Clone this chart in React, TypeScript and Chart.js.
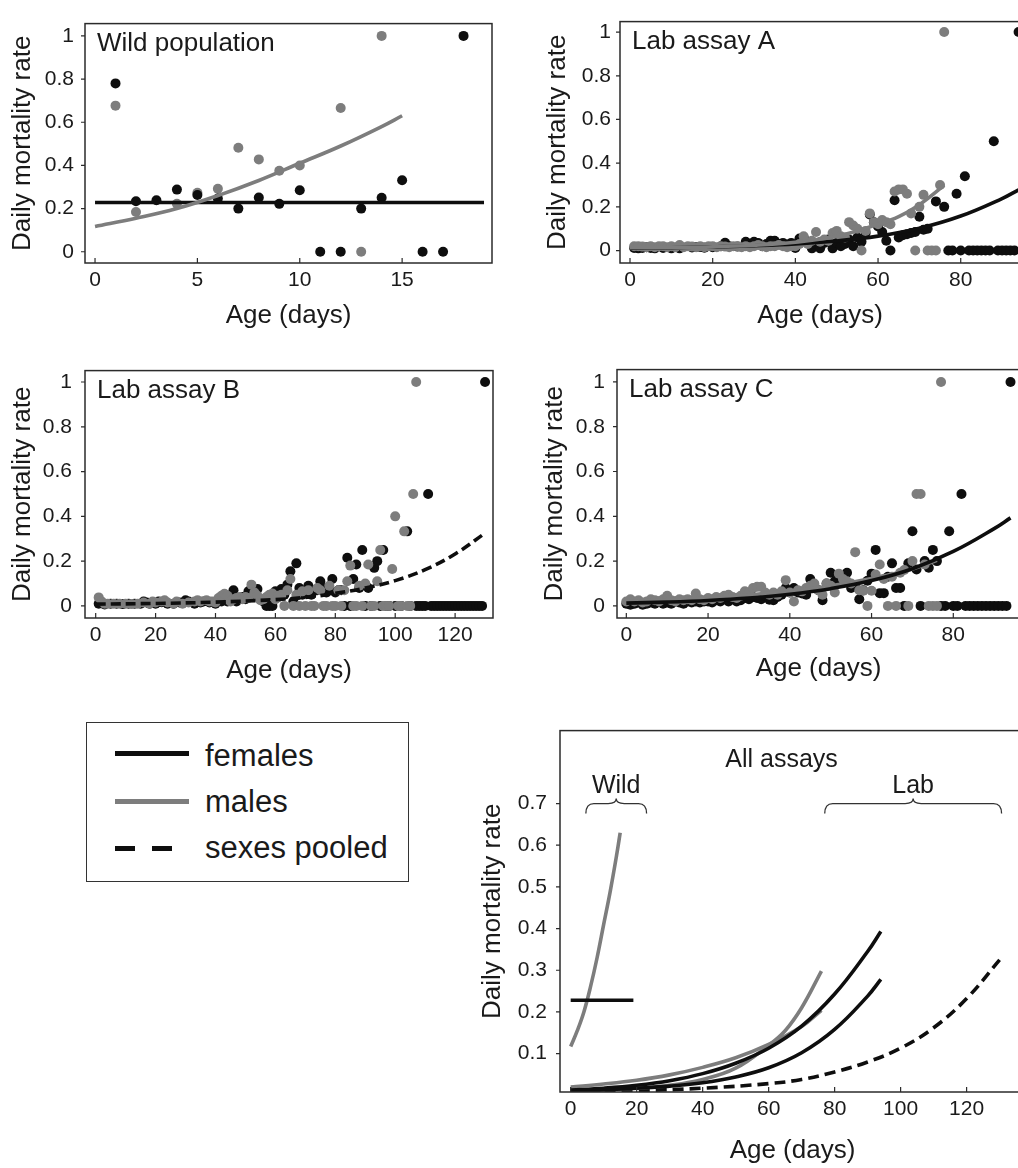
import React, { useEffect, useRef } from 'react';
import { Chart, registerables } from 'chart.js';
Chart.register(...registerables);

type Pair = [number, number];

// ---------------- data ----------------
const wildFemales: Pair[] = [[1,0.78],[2,0.234],[3,0.239],[4,0.288],[5,0.263],[6,0.247],[7,0.2],[8,0.251],[9,0.222],[10,0.285],[11,0],[12,0],[13,0.2],[14,0.25],[15,0.331],[16,0],[17,0],[18,1]];
const wildMales: Pair[] = [[1,0.677],[2,0.184],[4,0.222],[5,0.273],[6,0.292],[7,0.482],[8,0.428],[9,0.375],[10,0.4],[12,0.666],[13,0],[14,1]];

const labAFemales: Pair[] = [[1,0.012],[2,0.01],[3,0.012],[4,0.015],[5,0.012],[6,0.01],[8,0.012],[10,0.01],[12,0.01],[15,0.014],[16,0.016],[17,0.016],[18,0.013],[20,0.015],[22,0.02],[23,0.036],[24,0.02],[26,0.018],[28,0.04],[29,0.03],[30,0.04],[31,0.035],[32,0.02],[33,0.03],[34,0.045],[35,0.045],[36,0.03],[37,0.035],[38,0.02],[39,0.035],[40,0.012],[41,0.055],[42,0.06],[43,0.04],[44,0.01],[45,0.03],[46,0.01],[47,0.035],[48,0.05],[49,0.01],[50,0.035],[51,0.02],[52,0.03],[53,0.05],[54,0.02],[55,0.06],[56,0.04],[57,0.08],[58,0.165],[59,0.13],[60,0.11],[61,0.085],[62,0.045],[63,0],[64,0.23],[65,0.06],[66,0.07],[67,0.075],[68,0.08],[69,0.085],[70,0.155],[71,0.095],[72,0.1],[74,0.225],[76,0.2],[77,0],[78,0],[79,0.26],[80,0],[81,0.34],[82,0],[83,0],[84,0],[85,0],[86,0],[87,0],[88,0.5],[89,0],[90,0],[91,0],[92,0],[93,0],[94,1]];
const labAMales: Pair[] = [[1,0.02],[2,0.02],[3,0.018],[4,0.015],[5,0.02],[6,0.015],[7,0.02],[8,0.02],[9,0.015],[10,0.02],[11,0.015],[12,0.025],[13,0.015],[14,0.02],[15,0.018],[16,0.015],[17,0.02],[18,0.015],[19,0.02],[20,0.02],[21,0.015],[22,0.02],[23,0.018],[24,0.015],[25,0.02],[26,0.02],[27,0.015],[28,0.02],[29,0.015],[30,0.02],[31,0.025],[32,0.02],[33,0.015],[34,0.02],[35,0.02],[36,0.025],[37,0.02],[38,0.015],[39,0.02],[40,0.02],[41,0.03],[42,0.065],[43,0.03],[44,0.045],[45,0.085],[46,0.04],[47,0.05],[48,0.045],[49,0.08],[50,0.09],[51,0.065],[52,0.06],[53,0.13],[54,0.115],[55,0.1],[56,0],[57,0.09],[58,0.17],[59,0.13],[60,0.12],[61,0.14],[62,0.13],[63,0.12],[64,0.27],[65,0.28],[66,0.28],[67,0.26],[68,0.17],[69,0],[70,0.2],[71,0.255],[72,0],[73,0],[74,0],[75,0.3],[76,1]];

const labBFemales: Pair[] = [[1,0.01],[2,0.012],[3,0.006],[5,0.01],[7,0.01],[9,0.008],[11,0.01],[13,0.01],[15,0.01],[16,0.02],[17,0.015],[18,0.01],[20,0.01],[21,0.02],[22,0.016],[24,0.01],[26,0.01],[28,0.015],[30,0.025],[31,0.02],[33,0.01],[35,0.015],[36,0.02],[38,0.015],[40,0.01],[42,0.02],[43,0.03],[44,0.02],[45,0.035],[46,0.07],[47,0.02],[48,0.03],[49,0.04],[50,0.03],[51,0.065],[52,0.04],[53,0.05],[54,0.075],[55,0.03],[56,0.02],[57,0],[58,0],[59,0],[60,0.065],[61,0.04],[62,0.075],[63,0.05],[64,0.095],[65,0.155],[66,0.02],[67,0.19],[68,0.08],[69,0.05],[70,0.06],[71,0.09],[72,0.05],[73,0.07],[74,0.07],[75,0.11],[76,0.08],[77,0.06],[78,0.07],[79,0.12],[80,0.06],[81,0.07],[82,0.07],[83,0],[84,0.215],[85,0],[86,0.12],[87,0.185],[88,0.08],[89,0.25],[90,0],[91,0.08],[92,0],[93,0.17],[94,0.2],[95,0],[96,0.25],[97,0],[98,0],[100,0],[102,0],[104,0.333],[105,0],[107,0],[108,0],[109,0],[110,0],[111,0.5],[112,0],[113,0],[114,0],[115,0],[116,0],[117,0],[118,0],[119,0],[120,0],[121,0],[122,0],[123,0],[124,0],[125,0],[126,0],[127,0],[128,0],[129,0],[130,1]];
const labBMales: Pair[] = [[1,0.038],[2,0.02],[3,0.01],[4,0.01],[6,0.01],[8,0.01],[10,0.01],[12,0.008],[14,0.01],[16,0.015],[18,0.01],[19,0.02],[20,0.015],[22,0.02],[23,0.025],[24,0.015],[26,0.01],[27,0.02],[29,0.01],[31,0.015],[33,0.02],[34,0.025],[35,0.02],[37,0.025],[38,0.02],[39,0.02],[40,0.015],[41,0.035],[42,0.045],[43,0.054],[44,0.045],[45,0.02],[46,0.03],[47,0.035],[48,0.04],[49,0.03],[50,0.04],[51,0.035],[52,0.095],[53,0.06],[54,0.045],[55,0.025],[56,0.03],[57,0.04],[58,0.05],[59,0.055],[60,0.03],[61,0.045],[62,0.05],[63,0],[64,0.07],[65,0.12],[66,0],[67,0.05],[68,0],[69,0.065],[70,0],[71,0.07],[72,0],[73,0],[74,0.08],[75,0.07],[76,0],[77,0],[78,0.09],[79,0],[80,0],[81,0.07],[82,0],[83,0.07],[84,0.11],[85,0.18],[86,0],[87,0],[88,0.09],[89,0],[90,0.1],[91,0.185],[92,0],[93,0],[94,0.11],[95,0.25],[96,0],[97,0],[98,0],[99,0.165],[100,0.4],[101,0],[102,0],[103,0.333],[104,0],[105,0],[106,0.5],[107,1]];

const labCFemales: Pair[] = [[0,0.01],[1,0.005],[2,0.01],[3,0.015],[4,0.005],[5,0.01],[6,0.015],[7,0.01],[8,0.02],[9,0.01],[10,0.015],[11,0.01],[12,0.02],[13,0.015],[14,0.01],[15,0.02],[16,0.015],[17,0.02],[18,0.015],[19,0.02],[20,0.02],[21,0.015],[22,0.025],[23,0.02],[24,0.03],[25,0.02],[26,0.03],[27,0.02],[28,0.025],[29,0.035],[30,0.03],[31,0.04],[32,0.035],[33,0.03],[34,0.045],[35,0.028],[36,0.025],[37,0.04],[38,0.05],[39,0.08],[40,0.06],[41,0.08],[42,0.06],[43,0.055],[44,0.05],[45,0.12],[46,0.09],[47,0.07],[48,0.025],[49,0.1],[50,0.148],[51,0.11],[52,0.13],[53,0.12],[54,0.148],[55,0.08],[56,0.09],[57,0.03],[58,0.07],[59,0.112],[60,0.144],[61,0.25],[62,0.057],[63,0.057],[64,0.13],[65,0.19],[66,0.08],[67,0.08],[68,0],[69,0.19],[70,0.333],[71,0.163],[72,0],[73,0.2],[74,0.17],[75,0.25],[76,0.2],[77,0],[78,0],[79,0.333],[80,0],[81,0],[82,0.5],[83,0],[84,0],[85,0],[86,0],[87,0],[88,0],[89,0],[90,0],[91,0],[92,0],[93,0],[94,1]];
const labCMales: Pair[] = [[0,0.02],[1,0.03],[2,0.02],[3,0.025],[4,0.015],[5,0.02],[6,0.03],[7,0.025],[8,0.02],[9,0.03],[10,0.045],[11,0.025],[12,0.02],[13,0.03],[14,0.025],[15,0.03],[16,0.025],[17,0.055],[18,0.03],[19,0.025],[20,0.035],[21,0.03],[22,0.04],[23,0.035],[24,0.045],[25,0.05],[26,0.04],[27,0.035],[28,0.045],[29,0.065],[30,0.06],[31,0.08],[32,0.085],[33,0.085],[34,0.06],[35,0.05],[36,0.06],[37,0.05],[38,0.065],[39,0.115],[40,0.06],[41,0.02],[42,0.07],[43,0.065],[44,0.08],[45,0.09],[46,0.1],[47,0.07],[48,0.05],[49,0.1],[50,0.09],[51,0.06],[52,0.144],[53,0.12],[54,0.11],[55,0.1],[56,0.24],[57,0.07],[58,0.068],[59,0],[60,0.068],[61,0.14],[62,0.185],[63,0.12],[64,0],[65,0.13],[66,0],[67,0.148],[68,0.16],[69,0],[70,0.2],[71,0.5],[72,0.5],[73,0.185],[74,0],[75,0],[76,0],[77,1]];

// fitted curves
const wildMaleFitDays = [0, 2, 4, 6, 8, 10, 12, 14, 15];
const wildMaleFitRates = [0.117, 0.155, 0.2, 0.26, 0.33, 0.41, 0.49, 0.58, 0.63];
const wildFemaleFitDays = [0, 19];
const wildFemaleFitRates = [0.228, 0.228];
const labAFemaleFitDays = [0, 10, 20, 30, 40, 50, 60, 70, 80, 90, 94];
const labAFemaleFitRates = [0.011, 0.013, 0.017, 0.022, 0.03, 0.044, 0.066, 0.102, 0.158, 0.238, 0.278];
const labAMaleFitDays = [0, 10, 20, 30, 40, 50, 60, 65, 70, 76];
const labAMaleFitRates = [0.0125, 0.014, 0.017, 0.024, 0.038, 0.065, 0.12, 0.155, 0.21, 0.298];
const labBPooledFitDays = [0, 20, 40, 60, 70, 80, 90, 100, 110, 120, 130];
const labBPooledFitRates = [0.008, 0.011, 0.017, 0.028, 0.038, 0.056, 0.08, 0.113, 0.162, 0.232, 0.325];
const labCFemaleFitDays = [0, 10, 20, 30, 40, 50, 60, 70, 80, 90, 94];
const labCFemaleFitRates = [0.0125, 0.017, 0.024, 0.035, 0.052, 0.077, 0.113, 0.166, 0.243, 0.345, 0.393];
const labCMaleFitDays = [0, 10, 20, 30, 40, 50, 60, 70, 76];
const labCMaleFitRates = [0.02, 0.027, 0.036, 0.049, 0.067, 0.09, 0.122, 0.165, 0.204];

// ticks
const wildDayTicks = [0, 5, 10, 15];
const labDayTicks80 = [0, 20, 40, 60, 80];
const labDayTicks120 = [0, 20, 40, 60, 80, 100, 120];
const rateTicks = [0, 0.2, 0.4, 0.6, 0.8, 1];
const allRateTicks = [0.1, 0.2, 0.3, 0.4, 0.5, 0.6, 0.7];

// annotations of the summary panel
const wildBracketDays = [4.6, 23];
const labBracketDays = [77, 130.6];
const bracketRate = 0.7;
const allAssaysTitleDay = 63.9;
const legendLabels = ['females', 'males', 'sexes pooled'];

// ---------------- styling ----------------
const FONT = '"Liberation Sans", Arial, Helvetica, sans-serif';
const TEXT = '#1a1a1a';
const BLACK = '#0e0e0e';
const GRAY = '#7d7d7d';

const pts = (p: Pair[]) => p.map(([x, y]) => ({ x, y }));
const curve = (xs: number[], ys: number[]) => xs.map((x, i) => ({ x, y: ys[i] }));

function scatterSet(data: Pair[], color: string) {
  return {
    data: pts(data), showLine: false, pointRadius: 5, pointHoverRadius: 5, pointBorderWidth: 0,
    pointBackgroundColor: color, backgroundColor: color, borderColor: color,
  };
}
function lineSet(xs: number[], ys: number[], color: string, dash: number[] = [], width = 3.6) {
  return {
    data: curve(xs, ys), showLine: true, pointRadius: 0, pointHoverRadius: 0,
    borderColor: color, backgroundColor: color, borderWidth: width, borderDash: dash,
    tension: 0.4, fill: false,
  };
}

function brace(ctx: CanvasRenderingContext2D, x1: number, x2: number, y: number, h: number) {
  const xm = (x1 + x2) / 2;
  const r = 8;
  ctx.beginPath();
  ctx.moveTo(x1, y + h);
  ctx.quadraticCurveTo(x1, y, x1 + r, y);
  ctx.lineTo(xm - r, y);
  ctx.quadraticCurveTo(xm, y, xm, y - h * 0.5);
  ctx.quadraticCurveTo(xm, y, xm + r, y);
  ctx.lineTo(x2 - r, y);
  ctx.quadraticCurveTo(x2, y, x2, y + h);
  ctx.stroke();
}

function drawSummaryNotes(chart: any) {
  const { ctx, scales, chartArea: a } = chart;
  const xs = scales.x, ys = scales.y;
  ctx.fillStyle = TEXT;
  ctx.strokeStyle = '#333';
  ctx.lineWidth = 1.3;
  ctx.font = `25px ${FONT}`;
  ctx.textAlign = 'center';
  ctx.textBaseline = 'alphabetic';
  ctx.fillText('All assays', xs.getPixelForValue(allAssaysTitleDay), a.top + 36);
  const yLine = ys.getPixelForValue(bracketRate);
  const groups: [number[], string][] = [[wildBracketDays, 'Wild'], [labBracketDays, 'Lab']];
  groups.forEach(([d, t]) => {
    const x1 = xs.getPixelForValue(d[0]);
    const x2 = xs.getPixelForValue(d[1]);
    brace(ctx, x1, x2, yLine, 10);
    ctx.fillText(t, (x1 + x2) / 2, yLine - 11);
  });
}

interface Geo { cl: number; ct: number; cw: number; ch: number; al: number; at: number; ar: number; ab: number; }
interface Range { min: number; max: number; ticks: number[]; }
interface PanelProps {
  g: Geo; xr: Range; yr: Range; yTickPad: number; datasets: any[];
  label?: string; extra?: (chart: any) => void;
}

const fmt = (v: number) => String(Math.round(v * 100) / 100);

function Panel(props: PanelProps) {
  const ref = useRef<HTMLCanvasElement>(null);
  useEffect(() => {
    const { g, xr, yr } = props;
    const frame = {
      id: 'frame',
      afterDraw(chart: any) {
        const { ctx, chartArea: a, scales } = chart;
        ctx.save();
        ctx.strokeStyle = '#2b2b2b';
        ctx.lineWidth = 1.5;
        ctx.strokeRect(a.left, a.top, a.right - a.left, a.bottom - a.top);
        ctx.lineWidth = 1.2;
        ctx.beginPath();
        yr.ticks.forEach((v) => {
          const y = scales.y.getPixelForValue(v);
          ctx.moveTo(a.left - 4, y);
          ctx.lineTo(a.left, y);
        });
        xr.ticks.forEach((v) => {
          const x = scales.x.getPixelForValue(v);
          ctx.moveTo(x, a.bottom);
          ctx.lineTo(x, a.bottom - 5);
        });
        ctx.stroke();
        if (props.label) {
          ctx.fillStyle = TEXT;
          ctx.font = `26px ${FONT}`;
          ctx.textAlign = 'left';
          ctx.textBaseline = 'alphabetic';
          ctx.fillText(props.label, a.left + 12, a.top + 27);
        }
        if (props.extra) props.extra(chart);
        ctx.restore();
      },
    };
    const chart = new Chart(ref.current as HTMLCanvasElement, {
      type: 'scatter',
      data: { datasets: props.datasets },
      options: {
        responsive: false,
        animation: false,
        events: [],
        layout: { padding: { left: 0, top: g.at - g.ct, right: g.cl + g.cw - g.ar, bottom: 0 } },
        plugins: { legend: { display: false }, tooltip: { enabled: false } },
        scales: {
          x: {
            type: 'linear', position: 'bottom', min: xr.min, max: xr.max,
            afterBuildTicks: (s: any) => { s.ticks = xr.ticks.map((v) => ({ value: v })); },
            afterFit: (s: any) => { s.height = g.ct + g.ch - g.ab; },
            grid: { display: false, drawTicks: false },
            border: { display: false },
            ticks: { padding: 5, autoSkip: false, maxRotation: 0, color: TEXT, font: { size: 21, family: FONT }, callback: (v: any) => fmt(Number(v)) },
            title: { display: true, text: 'Age (days)', color: TEXT, font: { size: 26, family: FONT }, padding: 0 },
          },
          y: {
            type: 'linear', position: 'left', min: yr.min, max: yr.max,
            afterBuildTicks: (s: any) => { s.ticks = yr.ticks.map((v) => ({ value: v })); },
            afterFit: (s: any) => { s.width = g.al - g.cl; },
            grid: { display: false, drawTicks: false },
            border: { display: false },
            ticks: { padding: props.yTickPad, autoSkip: false, color: TEXT, font: { size: 21, family: FONT }, callback: (v: any) => fmt(Number(v)) },
            title: { display: true, text: 'Daily mortality rate', color: TEXT, font: { size: 26, family: FONT }, padding: { top: 7, bottom: 0 } },
          },
        },
      } as any,
      plugins: [frame],
    } as any);
    return () => chart.destroy();
  }, []);
  const { g } = props;
  return (
    <canvas ref={ref} width={g.cw} height={g.ch}
      style={{ position: 'absolute', left: g.cl, top: g.ct, width: g.cw, height: g.ch }} />
  );
}

function Legend() {
  const rows = [
    { y: 753, base: 766, bg: BLACK },
    { y: 801, base: 812, bg: GRAY },
    { y: 848, base: 858, bg: `repeating-linear-gradient(to right, ${BLACK} 0px, ${BLACK} 20px, transparent 20px, transparent 37px)` },
  ];
  return (
    <>
      <div style={{ position: 'absolute', left: 86, top: 722, width: 323, height: 160, border: '1.5px solid #333', boxSizing: 'border-box' }} />
      {rows.map((r, i) => (
        <React.Fragment key={i}>
          <div style={{ position: 'absolute', left: 115, top: r.y - 2.5, width: 74, height: 5, background: r.bg }} />
          <div style={{ position: 'absolute', left: 205, top: r.base - 26.2, fontFamily: FONT, fontSize: 31, lineHeight: '31px', color: TEXT, whiteSpace: 'nowrap' }}>
            {legendLabels[i]}
          </div>
        </React.Fragment>
      ))}
    </>
  );
}

export default function App() {
  return (
    <div style={{ position: 'absolute', left: 0, top: 0, width: 1018, height: 1168, overflow: 'hidden', background: '#fff' }}>
      <Panel
        g={{ cl: 0, ct: 0, cw: 500, ch: 331, al: 85, at: 9, ar: 492, ab: 263 }}
        xr={{ min: -0.49, max: 19.39, ticks: wildDayTicks }}
        yr={{ min: -0.052, max: 1.057, ticks: rateTicks }}
        yTickPad={11}
        label="Wild population"
        datasets={[
          lineSet(wildMaleFitDays, wildMaleFitRates, GRAY),
          lineSet(wildFemaleFitDays, wildFemaleFitRates, BLACK),
          scatterSet(wildFemales, BLACK),
          scatterSet(wildMales, GRAY),
        ]}
      />
      <Panel
        g={{ cl: 535, ct: 0, cw: 500, ch: 331, al: 620, at: 10, ar: 1020, ab: 263 }}
        xr={{ min: -2.42, max: 94.34, ticks: labDayTicks80 }}
        yr={{ min: -0.057, max: 1.048, ticks: rateTicks }}
        yTickPad={9}
        label="Lab assay A"
        datasets={[
          lineSet(labAMaleFitDays, labAMaleFitRates, GRAY),
          lineSet(labAFemaleFitDays, labAFemaleFitRates, BLACK),
          scatterSet(labAMales, GRAY),
          scatterSet(labAFemales, BLACK),
        ]}
      />
      <Panel
        g={{ cl: 0, ct: 345, cw: 500, ch: 341, al: 85, at: 365, ar: 493, ab: 618 }}
        xr={{ min: -3.57, max: 132.65, ticks: labDayTicks120 }}
        yr={{ min: -0.054, max: 1.051, ticks: rateTicks }}
        yTickPad={13}
        label="Lab assay B"
        datasets={[
          lineSet(labBPooledFitDays, labBPooledFitRates, BLACK, [10, 5]),
          scatterSet(labBMales, GRAY),
          scatterSet(labBFemales, BLACK),
        ]}
      />
      <Panel
        g={{ cl: 532, ct: 345, cw: 500, ch: 339, al: 617, at: 364, ar: 1020, ab: 618 }}
        xr={{ min: -2.28, max: 96.32, ticks: labDayTicks80 }}
        yr={{ min: -0.054, max: 1.055, ticks: rateTicks }}
        yTickPad={12}
        label="Lab assay C"
        datasets={[
          lineSet(labCFemaleFitDays, labCFemaleFitRates, BLACK),
          lineSet(labCMaleFitDays, labCMaleFitRates, GRAY),
          scatterSet(labCMales, GRAY),
          scatterSet(labCFemales, BLACK),
        ]}
      />
      <Panel
        g={{ cl: 470, ct: 705, cw: 565, ch: 461, al: 560, at: 722, ar: 1025, ab: 1092 }}
        xr={{ min: -3.24, max: 137.7, ticks: labDayTicks120 }}
        yr={{ min: 0.0079, max: 0.875, ticks: allRateTicks }}
        yTickPad={13}
        extra={drawSummaryNotes}
        datasets={[
          lineSet(wildFemaleFitDays, wildFemaleFitRates, BLACK),
          lineSet(wildMaleFitDays, wildMaleFitRates, GRAY),
          lineSet(labAFemaleFitDays, labAFemaleFitRates, BLACK),
          lineSet(labCFemaleFitDays, labCFemaleFitRates, BLACK),
          lineSet(labAMaleFitDays, labAMaleFitRates, GRAY),
          lineSet(labCMaleFitDays, labCMaleFitRates, GRAY),
          lineSet(labBPooledFitDays, labBPooledFitRates, BLACK, [11, 6]),
        ]}
      />
      <Legend />
    </div>
  );
}
